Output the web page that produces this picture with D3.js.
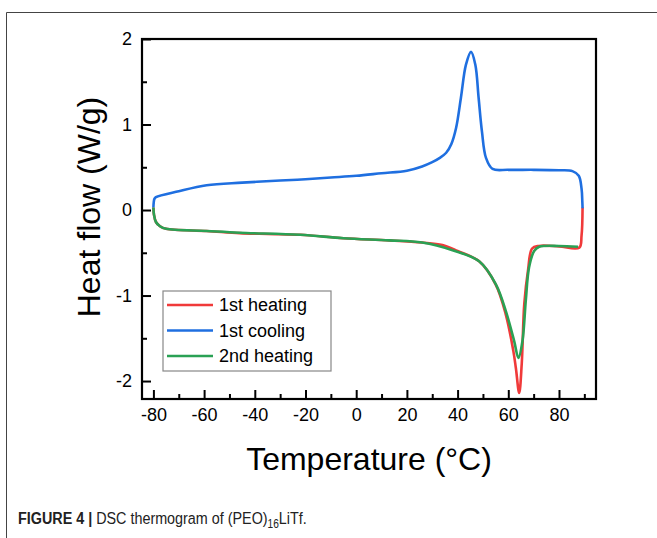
<!DOCTYPE html>
<html>
<head>
<meta charset="utf-8">
<script src="https://cdn.jsdelivr.net/npm/d3@7"></script>
<style>
  body { margin: 0; background: #fff; }
  svg { display: block; font-family: "Liberation Sans", Arial, sans-serif; }
</style>
</head>
<body>
<div id="chart"></div>
<script>
// DSC thermogram data (temperature in °C, heat flow in W/g)
var heating1T = [-80, -79.8, -79, -77.4, -75, -59, -46, -35, -22, -5, 13, 26, 34, 40, 48.5, 55, 59, 62, 63, 64.3, 65.3, 66.3, 67.8, 69.4, 72, 80, 88, 88.9, 89.3];
var heating1Q = [0.03, -0.05, -0.14, -0.19, -0.22, -0.245, -0.27, -0.28, -0.29, -0.33, -0.355, -0.38, -0.41, -0.48, -0.60, -0.87, -1.22, -1.65, -1.85, -2.14, -1.80, -1.10, -0.70, -0.45, -0.42, -0.425, -0.44, -0.30, 0.03];

var coolingT = [-80, -79.6, -79, -70, -59, -45, -30, -20, -10, 0, 10, 20, 26, 30, 33, 35.5, 37.5, 39.4, 41.3, 43.3, 45.3, 47, 48.3, 49.6, 51.2, 53.8, 60, 70, 80, 85.3, 87.8, 88.9, 89.2, 89.3];
var coolingQ = [0.03, 0.13, 0.15, 0.22, 0.29, 0.32, 0.345, 0.36, 0.38, 0.40, 0.43, 0.46, 0.51, 0.56, 0.61, 0.67, 0.77, 0.96, 1.31, 1.70, 1.85, 1.70, 1.31, 0.92, 0.61, 0.48, 0.47, 0.47, 0.465, 0.455, 0.40, 0.25, 0.10, 0.02];

var heating2T = [-80, -79.8, -79, -77.4, -75, -59, -46, -22, -5, 13, 26, 38, 48.5, 55.1, 59, 62.3, 64, 65.6, 66.9, 68.2, 70.2, 72.2, 80, 87.5];
var heating2Q = [0.03, -0.05, -0.14, -0.19, -0.22, -0.245, -0.265, -0.29, -0.33, -0.355, -0.38, -0.47, -0.60, -0.87, -1.18, -1.53, -1.73, -1.53, -1.06, -0.67, -0.48, -0.43, -0.42, -0.43];

var seriesNames = ["1st heating", "1st cooling", "2nd heating"];
var seriesColors = ["#f03a3a", "#1f6fe0", "#2aa154"];
var xMajorTicks = [-80, -60, -40, -20, 0, 20, 40, 60, 80];
var xMinorTicks = [-70, -50, -30, -10, 10, 30, 50, 70, 90];
var yMajorTicks = [-2, -1, 0, 1, 2];
var yMinorTicks = [-1.5, -0.5, 0.5, 1.5];

var W = 657, H = 538;
var margin = {top: 39, right: 61, bottom: 139, left: 142};
var width = W - margin.left - margin.right,
    height = H - margin.top - margin.bottom;

var svg = d3.select("#chart").append("svg")
  .attr("width", W)
  .attr("height", H);

// outer figure frame (top and left rules)
svg.append("path")
  .attr("d", "M6.5," + H + "V12.5H" + W)
  .attr("fill", "none")
  .attr("stroke", "#444")
  .attr("stroke-width", 1);

var g = svg.append("g")
  .attr("transform", "translate(" + margin.left + "," + margin.top + ")");

var x = d3.scaleLinear().domain([-84.5, 94.6]).range([0, width]);
var y = d3.scaleLinear().domain([-2.21, 2.0]).range([height, 0]);

function zip(ts, qs) { return ts.map(function (t, i) { return {t: t, q: qs[i]}; }); }

var data = [
  {name: seriesNames[0], color: seriesColors[0], values: zip(heating1T, heating1Q)},
  {name: seriesNames[1], color: seriesColors[1], values: zip(coolingT, coolingQ)},
  {name: seriesNames[2], color: seriesColors[2], values: zip(heating2T, heating2Q)}
];

var line = d3.line()
  .curve(d3.curveCatmullRom.alpha(0.5))
  .x(function (d) { return x(d.t); })
  .y(function (d) { return y(d.q); });

g.append("g").selectAll("path")
  .data(data)
  .enter().append("path")
    .attr("fill", "none")
    .attr("stroke", function (d) { return d.color; })
    .attr("stroke-width", 2.6)
    .attr("stroke-linejoin", "round")
    .attr("d", function (d) { return line(d.values); });

// axes, ticks pointing inward; plain hyphen for negatives like the original
var plain = function (d) { return String(d); };
var xAxis = d3.axisBottom(x).tickValues(xMajorTicks).tickSize(-9).tickPadding(9).tickFormat(plain);
var xMinor = d3.axisBottom(x).tickValues(xMinorTicks).tickSize(-5).tickFormat("");
var yAxis = d3.axisLeft(y).tickValues(yMajorTicks).tickSize(-9).tickPadding(10).tickFormat(plain);
var yMinor = d3.axisLeft(y).tickValues(yMinorTicks).tickSize(-5).tickFormat("");

function styleAxis(sel) {
  sel.select(".domain").remove();
  sel.selectAll("line").attr("stroke", "#000").attr("stroke-width", 2);
  sel.selectAll("text").attr("fill", "#000").style("font-size", "18px")
    .style("font-family", "'Liberation Sans', Arial, sans-serif");
}

g.append("g").attr("transform", "translate(0," + height + ")").call(xAxis).call(styleAxis);
g.append("g").attr("transform", "translate(0," + height + ")").call(xMinor).call(styleAxis);
g.append("g").call(yAxis).call(styleAxis);
g.append("g").call(yMinor).call(styleAxis);

g.append("rect")
  .attr("width", width)
  .attr("height", height)
  .attr("fill", "none")
  .attr("stroke", "#000")
  .attr("stroke-width", 2.2);

// axis titles
svg.append("text")
  .attr("x", margin.left + width / 2)
  .attr("y", 470)
  .attr("text-anchor", "middle")
  .style("font-size", "32px")
  .text("Temperature (°C)");

svg.append("text")
  .attr("transform", "translate(100," + 207 + ") rotate(-90)")
  .attr("text-anchor", "middle")
  .style("font-size", "32px")
  .text("Heat flow (W/g)");

// legend
var legend = g.append("g").attr("transform", "translate(21,252)");
legend.append("rect")
  .attr("width", 168)
  .attr("height", 80)
  .attr("fill", "#fff")
  .attr("stroke", "#888")
  .attr("stroke-width", 1.2);

var item = legend.selectAll(".item")
  .data(data)
  .enter().append("g")
    .attr("transform", function (d, i) { return "translate(0," + (14 + i * 25.5) + ")"; });

item.append("line")
  .attr("x1", 4).attr("x2", 50)
  .attr("stroke", function (d) { return d.color; })
  .attr("stroke-width", 2.4);

item.append("text")
  .attr("x", 56)
  .attr("dy", "0.35em")
  .style("font-size", "18px")
  .text(function (d) { return d.name; });

// caption (condensed face, squeezed horizontally since no narrow font is installed)
var cap = svg.append("text")
  .attr("transform", "translate(18,524) scale(0.845,1)")
  .style("font-size", "17px")
  .attr("fill", "#222");
cap.append("tspan").style("font-weight", "bold").text("FIGURE 4 | ");
cap.append("tspan").text("DSC thermogram of (PEO)");
cap.append("tspan").attr("dy", 4).style("font-size", "12px").text("16");
cap.append("tspan").attr("dy", -4).text("LiTf.");
</script>
</body>
</html>
